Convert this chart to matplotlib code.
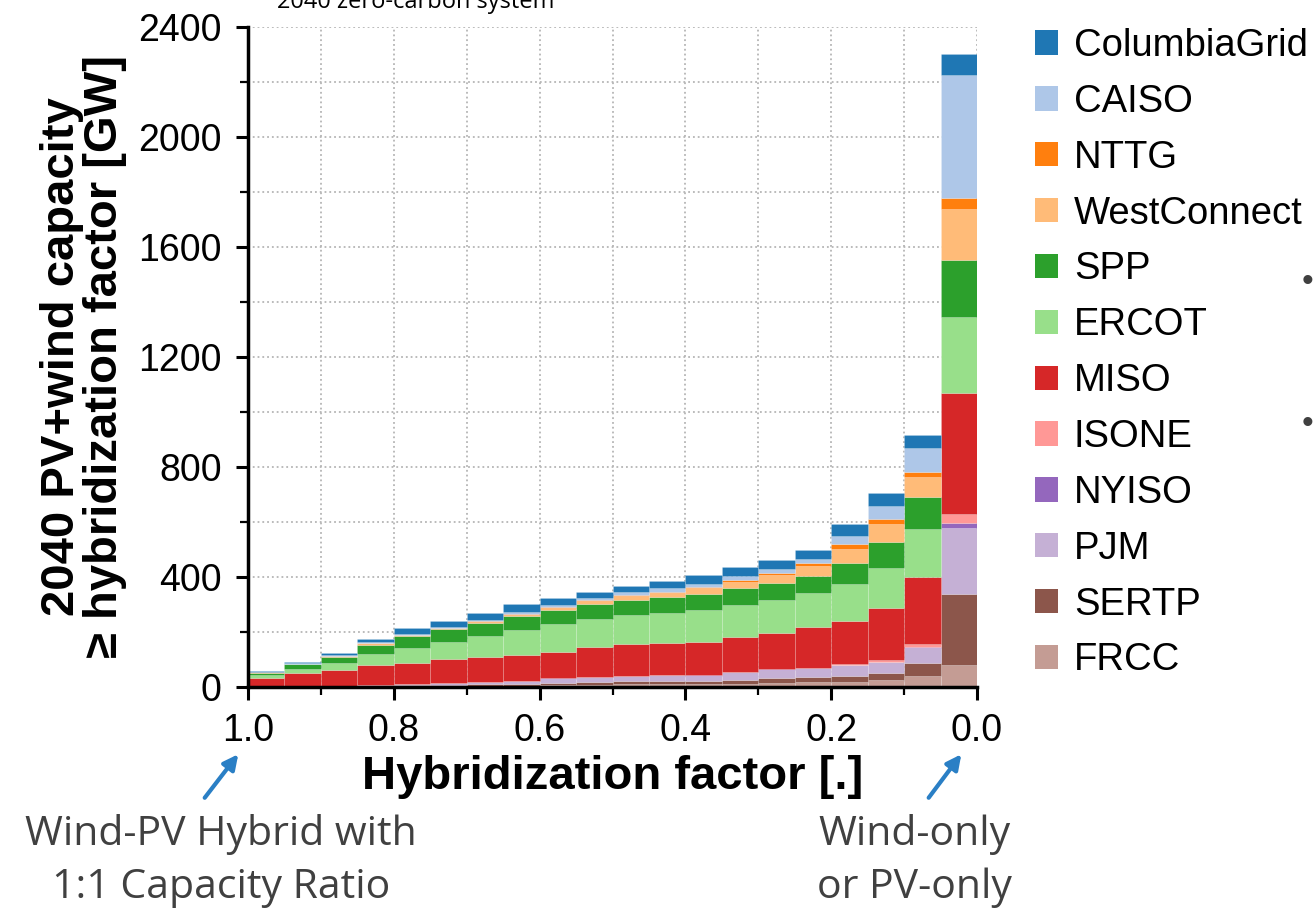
import numpy as np
import matplotlib
matplotlib.use("Agg")
import matplotlib.pyplot as plt
from matplotlib.patches import Patch
from matplotlib.ticker import MultipleLocator

plt.rcParams['font.family'] = ['Liberation Sans', 'DejaVu Sans']

# lower edge of each hybridization-factor bin (width 0.05), from 1.0 down to 0.0
bin_left = [0.95, 0.90, 0.85, 0.80, 0.75, 0.70, 0.65, 0.60, 0.55, 0.50,
            0.45, 0.40, 0.35, 0.30, 0.25, 0.20, 0.15, 0.10, 0.05, 0.00]

# GW per region, stacked bottom -> top
FRCC = [0, 0, 1, 1, 2, 3, 3, 4, 6, 7, 8, 9, 10, 10, 12, 18, 18, 24, 39, 79]
SERTP = [0, 1, 1, 2, 3, 4, 5, 6, 9, 11, 12, 13, 12, 14, 21, 18, 21, 27, 47, 257]
PJM = [1, 1, 2, 3, 5, 7, 8, 10, 14, 17, 18, 21, 18, 28, 29, 32, 38, 38, 56, 240]
NYISO = [0, 0, 0, 0, 0, 0, 0, 0, 1, 1, 1, 1, 1, 1, 1, 1, 2, 2, 2, 18]
ISONE = [0, 0, 0, 0, 0, 0, 0, 0, 0, 0, 0, 0, 0, 0, 0, 0, 2, 6, 10, 34]
MISO = [29, 49, 57, 72, 77, 87, 91, 96, 97, 107, 116, 116, 123, 127, 131, 149, 158, 188, 245, 439]
ERCOT = [12, 14, 24, 41, 53, 62, 76, 90, 100, 102, 106, 109, 115, 116, 121, 122, 133, 145, 173, 278]
SPP = [9, 16, 22, 34, 44, 47, 49, 52, 52, 55, 54, 56, 57, 62, 63, 63, 79, 97, 119, 207]
WestConnect = [1, 2, 4, 4, 3, 3, 4, 4, 8, 12, 15, 16, 22, 24, 28, 36, 50, 65, 70, 185]
NTTG = [0, 1, 1, 2, 1, 1, 2, 2, 3, 3, 3, 4, 3, 6, 6, 10, 18, 18, 21, 39]
CAISO = [2, 2, 4, 4, 4, 4, 3, 6, 7, 6, 10, 13, 12, 15, 17, 14, 30, 47, 85, 448]
ColumbiaGrid = [4, 5, 5, 9, 20, 21, 28, 31, 24, 24, 23, 27, 34, 31, 32, 34, 41, 46, 47, 76]

regions = ['FRCC', 'SERTP', 'PJM', 'NYISO', 'ISONE', 'MISO', 'ERCOT', 'SPP',
           'WestConnect', 'NTTG', 'CAISO', 'ColumbiaGrid']
series = [FRCC, SERTP, PJM, NYISO, ISONE, MISO, ERCOT, SPP,
          WestConnect, NTTG, CAISO, ColumbiaGrid]
colors = ['#c49c94', '#8c564b', '#c5b0d5', '#9467bd', '#ff9896', '#d62728',
          '#98df8a', '#2ca02c', '#ffbb78', '#ff7f0e', '#aec7e8', '#1f77b4']

fig = plt.figure(figsize=(13.15, 9.13), dpi=100)
ax = fig.add_axes([0.1886, 0.2479, 0.5544, 0.7229])

bottom = np.zeros(len(bin_left))
for name, vals, col in zip(regions, series, colors):
    ax.bar(bin_left, vals, width=0.05, align='edge', bottom=bottom, color=col,
           edgecolor=(1, 1, 1, 0.2), linewidth=0.5, zorder=2)
    bottom += np.array(vals)

ax.set_xlim(1.0, 0.0)
ax.set_ylim(0, 2400)
ax.xaxis.set_major_locator(MultipleLocator(0.2))
ax.xaxis.set_minor_locator(MultipleLocator(0.1))
ax.yaxis.set_major_locator(MultipleLocator(400))
ax.yaxis.set_minor_locator(MultipleLocator(200))
ax.set_xticks([1.0, 0.8, 0.6, 0.4, 0.2, 0.0])
ax.set_xticklabels(['1.0', '0.8', '0.6', '0.4', '0.2', '0.0'])

ax.grid(which='both', linestyle=':', color='#b5b5b5', linewidth=1.3, zorder=0)
ax.set_axisbelow(True)
for s in ['top', 'right']:
    ax.spines[s].set_visible(False)
for s in ['left', 'bottom']:
    ax.spines[s].set_linewidth(2.5)

ax.tick_params(which='major', direction='out', length=9, width=2.2, labelsize=27, pad=10)
ax.tick_params(which='minor', direction='out', length=6, width=1.6)

ax.set_xlabel('Hybridization factor [.]', fontsize=34, fontweight='bold', labelpad=4)
ax.set_ylabel('2040 PV+wind capacity\n\u2265 hybridization factor [GW]',
              fontsize=34, fontweight='bold', labelpad=8, linespacing=0.98)

handles = [Patch(facecolor=c) for c in colors[::-1]]
fig.legend(handles, regions[::-1], loc='upper left', bbox_to_anchor=(1035 / 1315, 1 - 28 / 913),
           frameon=False, fontsize=27.5, borderpad=0, borderaxespad=0,
           handlelength=0.6, handleheight=0.6, handletextpad=0.42, labelspacing=0.52)

# slide decorations around the chart
fig.text(277 / 1315, 1 - 8 / 913, '2040 zero-carbon system', fontsize=17,
         family=['Open Sans', 'DejaVu Sans'], color='black', va='baseline')
for yb in [283, 425]:
    fig.text(1302 / 1315, 1 - yb / 913, '\u2022', fontsize=24, color='#404040', va='center')

arrow_kw = dict(arrowstyle='-|>', color='#2a7fc5', lw=3, mutation_scale=22)
ax.annotate('', xy=(240, 913 - 752), xytext=(203, 913 - 800),
            xycoords='figure pixels', textcoords='figure pixels', arrowprops=arrow_kw)
ax.annotate('', xy=(963, 913 - 752), xytext=(927, 913 - 800),
            xycoords='figure pixels', textcoords='figure pixels', arrowprops=arrow_kw)

note_kw = dict(fontsize=29.5, family=['Open Sans', 'DejaVu Sans'], color='#404040',
               ha='center', va='center', linespacing=1.4)
fig.text(221 / 1315, 1 - 861 / 913, 'Wind-PV Hybrid with\n1:1 Capacity Ratio', **note_kw)
fig.text(914 / 1315, 1 - 861 / 913, 'Wind-only\nor PV-only', **note_kw)

fig.savefig('out.png', dpi=100)
